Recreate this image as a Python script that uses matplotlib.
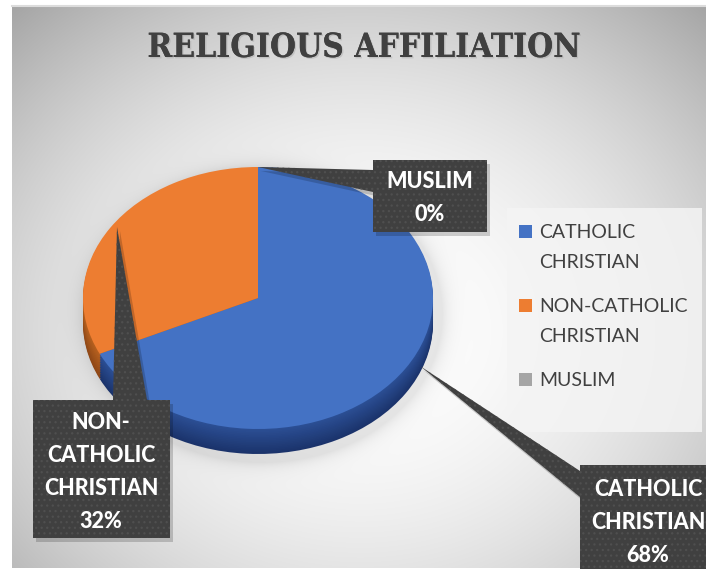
import numpy as np
import matplotlib
matplotlib.use("Agg")
import matplotlib.pyplot as plt
from matplotlib.patches import Polygon, Rectangle
import matplotlib.patheffects as pe
from matplotlib.colors import to_rgb

# ---- data -------------------------------------------------------------
categories = ["CATHOLIC CHRISTIAN", "NON-CATHOLIC CHRISTIAN", "MUSLIM"]
legend_labels = ["CATHOLIC\nCHRISTIAN", "NON-CATHOLIC\nCHRISTIAN", "MUSLIM"]
callout_labels = ["CATHOLIC\nCHRISTIAN", "NON-\nCATHOLIC\nCHRISTIAN", "MUSLIM"]
shares = [68, 32, 0]
title = "RELIGIOUS AFFILIATION"

top_colors = ["#4472C4", "#ED7D31", "#A5A5A5"]
side_dark = ["#1B336B", "#8E4716", "#5E5E5E"]
side_light = ["#2B4E93", "#B5601F", "#7A7A7A"]

plt.rcParams["hatch.linewidth"] = 0.9

W, H = 706, 569
fig = plt.figure(figsize=(W / 100, H / 100), dpi=100, facecolor="white")


def frac(x0, y0, x1, y1):
    return [x0 / W, 1 - y1 / H, (x1 - x0) / W, (y1 - y0) / H]


# ---- background -------------------------------------------------------
base = fig.add_axes([0, 0, 1, 1], zorder=0)
base.set_xlim(0, W)
base.set_ylim(H, 0)
base.axis("off")

yy, xx = np.mgrid[5:568:1.0, 12:706:1.0]
r2 = ((xx - 360) / 430) ** 2 + ((yy - 330) / 370) ** 2
shade = 1.0 - 0.25 * np.clip(r2, 0, 1.4)
# soft shadow around the pie
pr = np.sqrt(((xx - 262) / 180) ** 2 + ((yy - 314) / 148) ** 2)
shade -= 0.09 * np.exp(-np.clip(pr - 1.0, 0, None) / 0.05)
shade = np.clip(shade, 0, 1)
base.imshow(np.dstack([shade] * 3), extent=[12, 706, 568, 5],
            interpolation="bilinear", aspect="auto")
base.plot([12, 706], [5.5, 5.5], color="#dcdcdc", lw=1.5)

# legend panel
base.add_patch(Rectangle((507, 208), 195, 224, facecolor="#f4f4f4",
                         edgecolor="none", alpha=0.85))

# ---- 3D-looking pie ---------------------------------------------------
cx, cy, a, b, depth = 258, 298, 175, 131, 25
pad = 6
pax = fig.add_axes(frac(cx - a - pad, cy - b - pad, cx + a + pad,
                        cy + b + depth + pad), zorder=1)

layers = np.linspace(depth / b, 0, 16)[:-1]
for i, t in enumerate(layers):
    f = i / max(len(layers) - 1, 1)
    cols = [tuple((1 - f) * np.array(to_rgb(d)) + f * np.array(to_rgb(l)))
            for d, l in zip(side_dark, side_light)]
    pax.pie(shares, colors=cols, startangle=90, counterclock=False,
            center=(0, -t), wedgeprops=dict(linewidth=0))
pax.pie(shares, colors=top_colors, startangle=90, counterclock=False,
        wedgeprops=dict(linewidth=0))
pax.set_aspect("auto")
pax.set_xlim(-(a + pad) / a, (a + pad) / a)
pax.set_ylim(-(b + depth + pad) / b, (b + pad) / b)
pax.axis("off")

# ---- overlay: title, legend, callouts --------------------------------
ov = fig.add_axes([0, 0, 1, 1], zorder=3)
ov.set_xlim(0, W)
ov.set_ylim(H, 0)
ov.axis("off")

ov.text(364, 57, title, ha="center", va="baseline", fontsize=24,
        fontweight="bold", family="DejaVu Serif", fontstretch="condensed",
        color="#404040",
        path_effects=[pe.withSimplePatchShadow(offset=(1.0, -1.0),
                                               shadow_rgbFace="#a0a0a0",
                                               alpha=0.4),
                      pe.Normal()])

# legend entries
legend_tops = [225, 299, 373]
for lab, col, top in zip(legend_labels, top_colors, legend_tops):
    ov.add_patch(Rectangle((519, top), 13, 13, facecolor=col,
                           edgecolor="none"))
    for k, line in enumerate(lab.split("\n")):
        ov.text(539, top + 13 + 30 * k, line, ha="left", va="baseline",
                fontsize=14, family="Lato", color="#404040")

# callout shapes (box + pointer) in pixel coordinates
callouts = {
    "CATHOLIC CHRISTIAN": dict(
        poly=[(420, 366), (580, 471), (580, 465), (712, 465), (712, 575),
              (580, 575), (580, 497)],
        cx=648, base0=496),
    "NON-CATHOLIC CHRISTIAN": dict(
        poly=[(117, 227), (147, 400), (170, 400), (170, 538), (33, 538),
              (33, 400), (113, 400)],
        cx=101, base0=429),
    "MUSLIM": dict(
        poly=[(258, 167), (373, 170), (373, 160), (487, 160), (487, 232),
              (373, 232), (373, 192)],
        cx=430, base0=188),
}

for cat, lab, val in zip(categories, callout_labels, shares):
    c = callouts[cat]
    shadow = [(x + 3, y + 4) for x, y in c["poly"]]
    ov.add_patch(Polygon(shadow, closed=True, facecolor="#000000",
                         alpha=0.18, edgecolor="none"))
    ov.add_patch(Polygon(c["poly"], closed=True, facecolor="#404040",
                         edgecolor="#4f4f4f", linewidth=0, hatch="..."))
    lines = lab.split("\n") + [f"{val}%"]
    for k, line in enumerate(lines):
        ov.text(c["cx"], c["base0"] + 33 * k, line, ha="center",
                va="baseline", fontsize=15.5, fontweight=900,
                family="Lato", color="white")

fig.savefig("out.png", dpi=100, facecolor="white")
